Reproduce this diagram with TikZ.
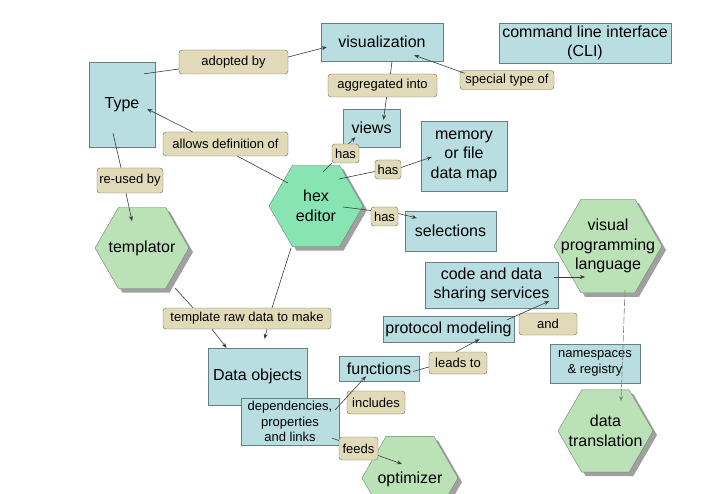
\documentclass[tikz,border=0pt]{standalone}
\usepackage{fontspec}
\setmainfont{Liberation Sans}
\usetikzlibrary{shapes.geometric,arrows.meta}
\definecolor{boxfill}{HTML}{B8DEE2}
\definecolor{boxline}{HTML}{667F84}
\definecolor{hexfill}{HTML}{BBE1B7}
\definecolor{hexbright}{HTML}{88E5B3}
\definecolor{hexline}{HTML}{6F8570}
\definecolor{lblfill}{HTML}{E1DAB9}
\definecolor{lblline}{HTML}{6E6955}
\definecolor{linkcol}{HTML}{3C3C3C}
\definecolor{shadecol}{HTML}{A0A0A0}

\begin{document}
\begin{tikzpicture}
[x=1pt,y=-1pt,%%%%%%%%%%%%%%%%%%%%%%%%%%%%%%
box/.style={rectangle,draw=boxline,fill=boxfill,inner sep=1pt,align=center,font=\fontsize{16}{19.5}\selectfont},
smallbox/.style={box,font=\fontsize{13}{15.5}\selectfont},
lbl/.style={rectangle,rounded corners=3pt,draw=lblline,fill=lblfill,inner sep=1pt,font=\fontsize{13}{15.5}\selectfont},
hexa/.style={regular polygon,regular polygon sides=6,inner sep=0pt,minimum size=94pt,draw=hexline,fill=hexfill},
hextext/.style={align=center,font=\fontsize{16}{19.5}\selectfont},
link/.style={draw=linkcol,line width=0.6pt},
arr/.style={link,-{Stealth[length=5pt,width=4pt]}},
]%%%%%%%%%%%%%%%%%%%%%%%%%%%%%%
\fill[white] (0,0) rectangle (701,494);
\clip (0,0) rectangle (701,494);

% hexagon shadows (centre x, centre y, radius)
\foreach \cx/\cy/\r in {320/210/47,146/252/47,612/250/54,609.5/435/47.5,414/482/48}{
\fill[shadecol] (\cx-\r,\cy) -- (\cx-\r/2,\cy-0.866*\r) -- (\cx+\r/2,\cy-0.866*\r)
  -- (\cx+\r,\cy) -- (\cx+\r/2,\cy+0.866*\r) -- (\cx-\r/2,\cy+0.866*\r) -- cycle;
}

% concept boxes
\node[box,minimum width=66pt,minimum height=85pt] (type) at (122,104.5){Type};
\node[box,minimum width=122pt,minimum height=38pt] (visual) at (382,42){visualization};
\node[box,minimum width=172pt,minimum height=40pt] (cli) at (585,43){command line interface\\(CLI)};
\node[box,minimum width=57pt,minimum height=38pt] (views) at (371.5,128){views};
\node[box,minimum width=86pt,minimum height=70pt] (memmap) at (464,156){memory\\or file\\data map};
\node[box,minimum width=91pt,minimum height=40pt] (select) at (450.5,231){selections};
\node[box,minimum width=133pt,minimum height=46pt] (codeshare) at (491.5,285){code and data\\sharing services};
\node[box,minimum width=131pt,minimum height=26pt] (protocol) at (448.5,329){protocol modeling};
\node[box,minimum width=80pt,minimum height=25pt] (funcs) at (379,368.5){functions};
\node[box,minimum width=99pt,minimum height=57pt] (dataobj) at (257.5,376.5){Data objects};
\node[smallbox,minimum width=98pt,minimum height=47pt] (deps) at (290,421.5){dependencies,\\properties\\and links};
\node[smallbox,minimum width=90pt,minimum height=39pt] (nsreg) at (595,363.5){namespaces\\\& registry};

% hexagons
\node[hexa,fill=hexbright,label={[hextext]center:hex\\editor}] (hexed) at (316,206){};
\node[hexa,label={[hextext]center:templator}] (templ) at (142,248){};
\node[hexa,minimum size=108pt,label={[hextext]center:visual\\programming\\language}] (vpl) at (608,246){};
\node[hexa,minimum size=95pt,label={[hextext]center:data\\translation}] (datatrans) at (605.5,431){};
\node[hexa,minimum size=96pt,label={[hextext,yshift=-1pt]center:optimizer}] (optim) at (410,478){};

% linking phrases
\node[lbl,minimum width=109pt,minimum height=24pt] (adopted) at (233.5,62){adopted by};
\node[lbl,minimum width=109pt,minimum height=23pt] (aggreg) at (382.5,85.5){aggregated into};
\node[lbl,minimum width=94pt,minimum height=19pt] (special) at (507,80){special type of};
\node[lbl,minimum width=125pt,minimum height=24pt] (allows) at (225.5,144){allows definition of};
\node[lbl,minimum width=66pt,minimum height=25pt] (reused) at (130,180.5){re-used by};
\node[lbl,minimum width=27pt,minimum height=19pt] (hasviews) at (345.5,153.5){has};
\node[lbl,minimum width=26pt,minimum height=19pt] (hasmap) at (388,169.5){has};
\node[lbl,minimum width=27pt,minimum height=19pt] (hassel) at (384.5,216.5){has};
\node[lbl,minimum width=168pt,minimum height=21pt] (tmplraw) at (247,318.5){template raw data to make};
\node[lbl,minimum width=58pt,minimum height=23pt] (includes) at (376,402.5){includes};
\node[lbl,minimum width=39pt,minimum height=23pt] (feeds) at (358.5,448.5){feeds};
\node[lbl,minimum width=58pt,minimum height=22pt] (leads) at (458,363){leads to};
\node[lbl,minimum width=58pt,minimum height=22pt] (andlbl) at (548,324){and};

% connectors
\draw[link] ([xshift=-11pt,yshift=-12pt]type.north east) -- ([yshift=-7pt]adopted.west);
\draw[arr] ([yshift=5pt]adopted.east) -- ([xshift=6pt,yshift=-5pt]visual.west);
\draw[link] ([xshift=10pt]visual.south) -- ([xshift=8pt]aggreg.north);
\draw[arr] ([xshift=4pt]aggreg.south) -- ([xshift=12pt,yshift=-11pt]views.north);
\draw[arr] ([xshift=5pt,yshift=-3pt]special.north west) -- ([xshift=-29pt,yshift=6pt]visual.south east);
\draw[link] ([xshift=-28pt,yshift=23pt]hexed.center) -- ([xshift=12pt]allows.south);
\draw[arr] ([xshift=-33pt]allows.north) -- ([xshift=-8pt,yshift=-4.5pt]type.east);
\draw[link] ([xshift=-9pt,yshift=14pt]type.south) -- ([xshift=-9pt]reused.north);
\draw[arr] ([xshift=-4pt]reused.south) -- ([xshift=-10pt,yshift=-14pt]templ.north);
\draw[link] ([xshift=7pt,yshift=34pt]hexed.center) -- (hasviews.south west);
\draw[arr] ([xshift=3pt]hasviews.north) -- ([xshift=-16pt,yshift=10pt]views.south);
\draw[link] ([xshift=23pt,yshift=27pt]hexed.center) -- ([yshift=-2pt]hasmap.west);
\draw[arr] ([yshift=2pt]hasmap.east) -- ([xshift=11pt,yshift=-1pt]memmap.west);
\draw[link] ([xshift=27pt,yshift=-1pt]hexed.center) -- ([yshift=6pt]hassel.west);
\draw[arr] ([yshift=3pt]hassel.east) -- ([xshift=12pt,yshift=13pt]select.west);
\draw[link] ([xshift=33pt,yshift=-40pt]templ.center) -- ([xshift=-54pt]tmplraw.north);
\draw[arr] ([xshift=-35pt]tmplraw.south) -- ([xshift=-31pt]dataobj.north);
\draw[link] ([xshift=-25pt,yshift=-42pt]hexed.center) -- ([xshift=25pt]tmplraw.north);
\draw[arr] ([xshift=20pt]tmplraw.south) -- ([xshift=7pt,yshift=9pt]dataobj.north);
\draw[arr] ([xshift=-4pt,yshift=-12pt]deps.north east) -- ([xshift=-13pt,yshift=5pt]funcs.south);
\draw[link] ([xshift=-7pt,yshift=7pt]deps.south east) -- ([yshift=8pt]feeds.west);
\draw[arr] ([yshift=-7pt]feeds.east) -- ([xshift=-8pt,yshift=14pt]optim.center);
\draw[link] ([xshift=-6pt,yshift=-3pt]funcs.east) -- ([yshift=-4pt]leads.west);
\draw[arr] ([xshift=-2pt]leads.north) -- ([xshift=31pt,yshift=3pt]protocol.south);
\draw[arr] ([xshift=-7pt,yshift=-4pt]protocol.north east) -- ([xshift=-9pt,yshift=7pt]codeshare.south east);
\draw[arr] ([xshift=-4pt,yshift=8pt]codeshare.east) -- ([xshift=-23pt,yshift=-31pt]vpl.center);
\draw[arr,draw=gray,dash pattern=on 7pt off 2pt] ([xshift=17pt,yshift=-44pt]vpl.center) -- ([xshift=15.5pt,yshift=30pt]datatrans.center);
\end{tikzpicture}
\end{document}
